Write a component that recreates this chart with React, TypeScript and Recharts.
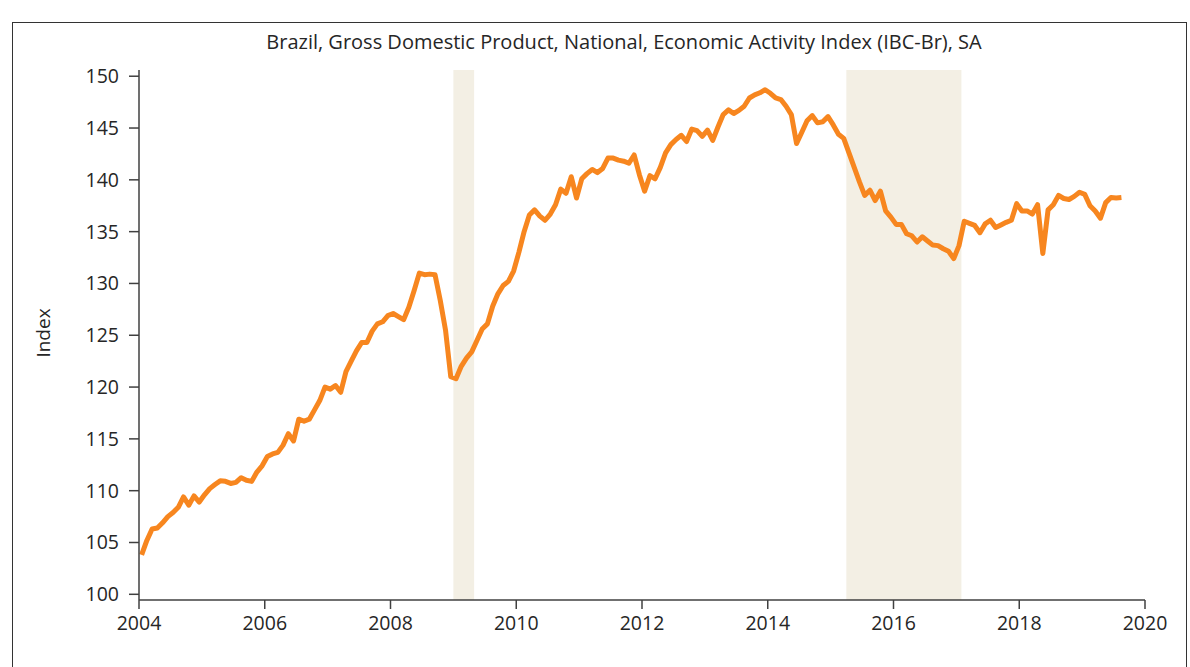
import { LineChart, Line, XAxis, YAxis, ReferenceArea } from 'recharts';

const startYear = 2004;

// Monthly IBC-Br (SA), Jan 2004 - Aug 2019
const ibcBr = [
  103.8, 105.2, 106.3, 106.4, 106.9, 107.5, 107.9, 108.4, 109.4, 108.6, 109.5, 108.9,
  109.6, 110.2, 110.6, 110.95, 110.9, 110.7, 110.8, 111.25, 111.0, 110.9, 111.8, 112.4,
  113.3, 113.55, 113.7, 114.4, 115.5, 114.8, 116.9, 116.7, 116.9, 117.8, 118.7, 120.0,
  119.8, 120.15, 119.5, 121.5, 122.5, 123.5, 124.3, 124.3, 125.4, 126.1, 126.3, 126.9,
  127.1, 126.8, 126.5, 127.7, 129.3, 131.0, 130.85, 130.9, 130.85, 128.35, 125.5, 121.0,
  120.8, 122.0, 122.8, 123.4, 124.5, 125.6, 126.1, 127.8, 129.0, 129.8, 130.2, 131.2,
  133.0, 135.0, 136.6, 137.1, 136.5, 136.1, 136.7, 137.6, 139.1, 138.7, 140.3, 138.25,
  140.1, 140.6, 141.0, 140.7, 141.1, 142.1, 142.1, 141.9, 141.8, 141.6, 142.4, 140.5,
  138.9, 140.4, 140.1, 141.2, 142.6, 143.4, 143.9, 144.3, 143.7, 144.9, 144.75, 144.2,
  144.8, 143.8, 145.1, 146.3, 146.75, 146.4, 146.7, 147.1, 147.9, 148.2, 148.4, 148.7,
  148.35, 147.9, 147.75, 147.1, 146.3, 143.5, 144.6, 145.7, 146.2, 145.5, 145.6, 146.1,
  145.3, 144.4, 144.0, 142.6, 141.2, 139.8, 138.5, 139.0, 138.0, 138.9, 137.0, 136.4,
  135.7, 135.7, 134.8, 134.6, 134.0, 134.5, 134.1, 133.7, 133.65, 133.35, 133.1, 132.4,
  133.65, 136.0, 135.8, 135.6, 134.9, 135.75, 136.1, 135.4, 135.65, 135.9, 136.1, 137.7,
  137.0, 137.0, 136.7, 137.6, 132.9, 137.1, 137.6, 138.5, 138.2, 138.1, 138.4, 138.8,
  138.6, 137.5, 137.0, 136.3, 137.8, 138.3, 138.25, 138.3,
];

const yearTicks = [2004, 2006, 2008, 2010, 2012, 2014, 2016, 2018, 2020];
const indexTicks = [100, 105, 110, 115, 120, 125, 130, 135, 140, 145, 150];

// recession periods (shaded)
const recessions = [
  { from: 2009.0, to: 2009.33 },
  { from: 2015.25, to: 2017.08 },
];

const data = ibcBr.map((v, i) => ({ t: startYear + (i + 0.5) / 12, value: v }));

const FONT = '"Open Sans", "Noto Sans", sans-serif';
const AXIS = '#404040';
const TEXT = '#262626';

export default function App() {
  return (
    <div style={{ position: 'fixed', left: 0, top: 0, width: 1190, height: 667, background: '#fff', overflow: 'hidden', fontFamily: FONT }}>
      <div style={{ position: 'absolute', left: 12, top: 22, width: 1175, height: 700, border: '1.5px solid #333', boxSizing: 'border-box' }} />
      <div style={{ position: 'absolute', left: 0, width: 1248, top: 28, textAlign: 'center', fontSize: 20, color: TEXT }}>
        Brazil, Gross Domestic Product, National, Economic Activity Index (IBC-Br), SA
      </div>
      <div style={{ position: 'absolute', left: 43, top: 333, transform: 'translate(-50%, -50%) rotate(-90deg)', fontSize: 19, color: TEXT }}>
        Index
      </div>
      <div style={{ position: 'absolute', left: 0, top: 0 }}>
        <LineChart width={1190} height={667} data={data} margin={{ top: 70, right: 45, bottom: 27, left: 59 }}>
          <XAxis
            dataKey="t"
            type="number"
            domain={[2004, 2020]}
            ticks={yearTicks}
            allowDataOverflow
            stroke={AXIS}
            strokeWidth={1.5}
            tickSize={9}
            tickMargin={7}
            height={40}
            tick={{ fill: TEXT, fontSize: 19.5, fontFamily: FONT }}
          />
          <XAxis xAxisId="top" dataKey="t" type="number" domain={[2004, 2020]} orientation="top" height={0} tick={false} tickLine={false} stroke={AXIS} strokeWidth={1.5} />
          <YAxis
            type="number"
            domain={[99.45, 150.6]}
            ticks={indexTicks}
            allowDataOverflow
            stroke={AXIS}
            strokeWidth={1.5}
            tickSize={10}
            tickMargin={10}
            width={80}
            tick={{ fill: TEXT, fontSize: 19.5, fontFamily: FONT }}
          />
          <YAxis yAxisId="right" orientation="right" domain={[99.45, 150.6]} width={0} tick={false} tickLine={false} stroke={AXIS} strokeWidth={1.5} />
          {recessions.map((r) => (
            <ReferenceArea key={r.from} x1={r.from} x2={r.to} fill="#F3EFE4" fillOpacity={1} stroke="none" />
          ))}
          <Line
            type="linear"
            dataKey="value"
            stroke="#F7861F"
            strokeWidth={5}
            strokeLinejoin="round"
            dot={false}
            isAnimationActive={false}
          />
        </LineChart>
      </div>
    </div>
  );
}
